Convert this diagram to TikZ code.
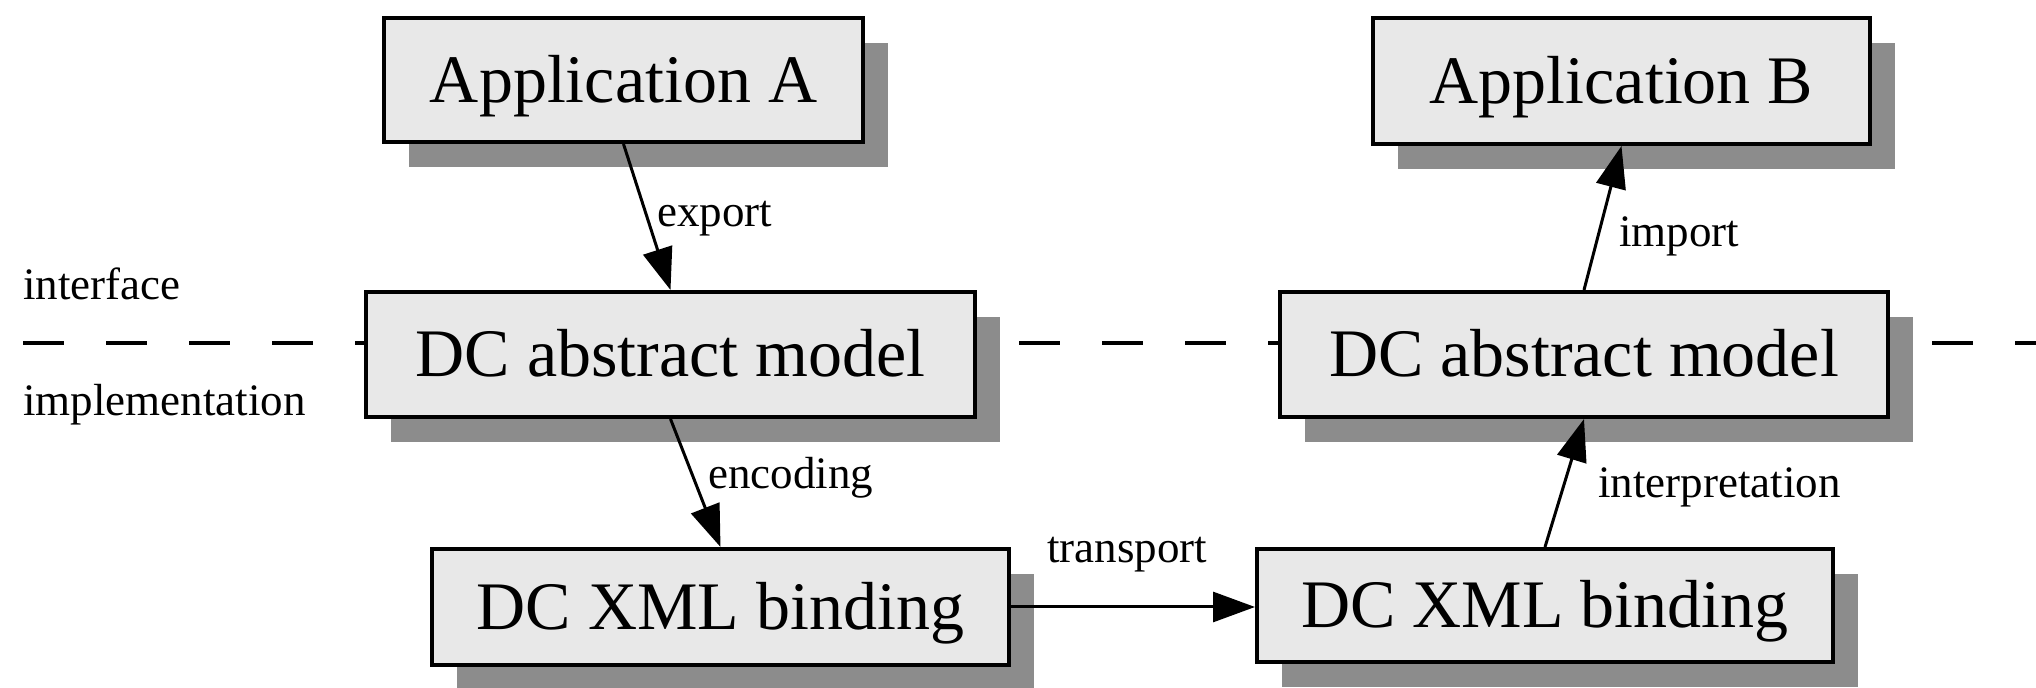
\documentclass[tikz,border=0pt]{standalone}
\usepackage{fontspec}
\setmainfont{Liberation Serif}
\usetikzlibrary{arrows.meta,shadows}
\definecolor{boxfill}{gray}{0.91}
\definecolor{shadowgray}{gray}{0.55}
\begin{document}
\begin{tikzpicture}[x=0.5pt,y=-0.5pt,
  box/.style={draw=black, line width=2pt, fill=boxfill, inner sep=0pt,
    font=\fontsize{34pt}{40pt}\selectfont, text height=22.5pt, text depth=0pt,
    drop shadow={shadow xshift=12.5pt, shadow yshift=-12.5pt, fill=shadowgray, opacity=1}},
  lbl/.style={inner sep=0pt, anchor=base west, font=\fontsize{22.5pt}{27pt}\selectfont},
  arr/.style={line width=1.5pt, -{Triangle[length=21pt, width=15pt]}},
  layerline/.style={line width=2pt, dash pattern=on 20.5pt off 21pt}
]
\useasboundingbox (0,0) rectangle (2036,688);

% interface / implementation boundary
\coordinate (lineL) at (23,343);
\coordinate (lineR) at (2040,343);
\draw[layerline] (lineL) -- (lineR);
\node[lbl] (iface) at (23,300) {interface};
\node[lbl] (impl) at (23,416) {implementation};

% boxes
\node[box, minimum width=239.5pt, minimum height=62pt] (appA) at (623.5,80) {Application A};
\node[box, minimum width=248.5pt, minimum height=63pt] (appB) at (1621.5,81) {Application B};
\node[box, minimum width=304.5pt, minimum height=62.5pt] (absL) at (670.5,354.5) {DC abstract model};
\node[box, minimum width=304pt, minimum height=62.5pt] (absR) at (1584,354.5) {DC abstract model};
\node[box, minimum width=288.5pt, minimum height=58pt] (xmlL) at (720.5,607) {DC XML binding};
\node[box, minimum width=288pt, minimum height=56.5pt] (xmlR) at (1545,605.5) {DC XML binding};

% flows
\draw[arr] (appA.south) -- (absL.north);
\draw[arr] (absL.south) -- (xmlL.north);
\draw[arr] (xmlL.east) -- (xmlL.east -| xmlR.west);
\draw[arr] (xmlR.north) -- (absR.south);
\draw[arr] (absR.north) -- (appB.south);

% flow labels
\node[lbl] (lexport) at (657,227) {export};
\node[lbl] (lencoding) at (708,489) {encoding};
\node[lbl] (ltransport) at (1047,563) {transport};
\node[lbl] (linterp) at (1598,498) {interpretation};
\node[lbl] (limport) at (1619,247) {import};
\end{tikzpicture}
\end{document}
